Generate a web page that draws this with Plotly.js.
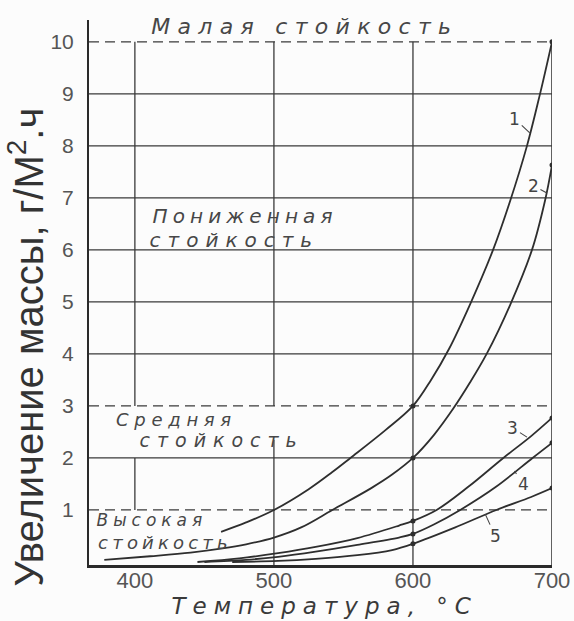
<!DOCTYPE html>
<html>
<head>
<meta charset="utf-8">
<script src="https://cdn.plot.ly/plotly-3.0.1.min.js"></script>
<style>
  html, body { margin: 0; padding: 0; background: #fcfcfc; }
  #chart { width: 574px; height: 621px; }
  g.annotation[data-index="0"] text { letter-spacing: 7.3px; }
  g.annotation[data-index="1"] text { letter-spacing: 5.1px; }
  g.annotation[data-index="2"] text { letter-spacing: 7px; }
  g.annotation[data-index="3"] text { letter-spacing: 5.7px; }
  g.annotation[data-index="4"] text { letter-spacing: 7px; }
  g.annotation[data-index="5"] text { letter-spacing: 5px; }
  g.annotation[data-index="6"] text { letter-spacing: 4.2px; }
  g.annotation[data-index="7"] text { letter-spacing: 7px; }
</style>
</head>
<body>
<div id="chart"></div>
<script>
// ---- data ----
const curveLabels = ['1', '2', '3', '4', '5'];

const temp1 = [462, 480, 500, 525, 542, 555, 580, 600, 613, 626, 641, 657.6, 670, 682, 691.4, 700];
const gain1 = [0.58, 0.76, 1.0, 1.4, 1.73, 2.0, 2.53, 3.0, 3.5, 4.1, 4.95, 6.0, 6.95, 8.0, 9.0, 10.0];

const temp2 = [378, 411, 440, 463, 480, 500, 520, 542, 570, 585, 600, 615, 629, 641, 653, 670, 685.6, 695, 700];
const gain2 = [0.04, 0.11, 0.18, 0.26, 0.34, 0.47, 0.67, 1.0, 1.42, 1.68, 2.0, 2.44, 2.95, 3.45, 4.0, 4.95, 6.0, 6.95, 7.63];

const temp3 = [445, 475, 503, 530, 560, 590, 600, 617, 640, 665, 685, 700];
const gain3 = [0.0, 0.07, 0.17, 0.29, 0.46, 0.70, 0.79, 1.0, 1.45, 2.0, 2.42, 2.77];

const temp4 = [450, 480, 503, 530, 560, 590, 600, 615, 634, 660, 686, 700];
const gain4 = [0.0, 0.04, 0.10, 0.20, 0.33, 0.47, 0.54, 0.72, 1.0, 1.45, 2.0, 2.29];

const temp5 = [470, 503, 530, 560, 585, 600, 630, 660, 685, 700];
const gain5 = [0.0, 0.02, 0.06, 0.13, 0.23, 0.35, 0.66, 1.0, 1.25, 1.42];

const markedTemps = [600, 700];

const xTickVals = [400, 500, 600, 700];
const xTickText = ['400', '500', '600', '700'];
const yTickVals = [1, 2, 3, 4, 5, 6, 7, 8, 9, 10];
const yTickText = ['1', '2', '3', '4', '5', '6', '7', '8', '9', '10'];

const solidGridY = [2, 4, 5, 6, 7, 8, 9];
const dashedGridY = [1, 3, 10];

const zoneTitle = 'Малая стойкость';
const zoneLow = ['Пониженная', 'стойкость'];
const zoneMid = ['Средняя', 'стойкость'];
const zoneHigh = ['Высокая', 'стойкость'];
const xTitle = 'Температура, °С';
const yTitle = 'Увеличение массы, г/М<sup>2</sup>.ч';

// ---- build ----
const temps = [temp1, temp2, temp3, temp4, temp5];
const gains = [gain1, gain2, gain3, gain4, gain5];
const ink = '#2e2e2e';
const XMIN = 367, XMAX = 700, YMIN = -0.058, YMAX = 10.42;

const traces = temps.map((t, i) => ({
  x: t, y: gains[i], type: 'scatter', mode: 'lines',
  name: curveLabels[i],
  line: { color: ink, width: 1.8, shape: 'spline', smoothing: 1 },
  hoverinfo: 'skip', showlegend: false
}));

const mx = [], my = [];
temps.forEach((t, i) => {
  t.forEach((v, j) => { if (markedTemps.includes(v)) { mx.push(v); my.push(gains[i][j]); } });
});
traces.push({
  x: mx, y: my, type: 'scatter', mode: 'markers',
  marker: { color: ink, size: 5 }, hoverinfo: 'skip', showlegend: false
});

const gridColor = '#3a3a3a';
const shapes = [];
solidGridY.forEach(v => shapes.push({
  type: 'line', xref: 'x', yref: 'y', x0: XMIN, x1: XMAX, y0: v, y1: v,
  line: { color: gridColor, width: 1.3 }, layer: 'below'
}));
dashedGridY.forEach(v => shapes.push({
  type: 'line', xref: 'x', yref: 'y', x0: XMIN, x1: XMAX, y0: v, y1: v,
  line: { color: gridColor, width: 1.3, dash: '10px,6px' }, layer: 'below'
}));
// vertical grid segments (gaps where zone labels sit)
const vSeg = [
  [xTickVals[0], 3, 10], [xTickVals[0], 1, 2],
  [xTickVals[1], 3, 10], [xTickVals[1], YMIN, 2.35],
  [xTickVals[2], YMIN, 10],
  [xTickVals[3], YMIN, 10]
];
vSeg.forEach(s => shapes.push({
  type: 'line', xref: 'x', yref: 'y', x0: s[0], x1: s[0], y0: s[1], y1: s[2],
  line: { color: gridColor, width: s[0] === 700 ? 1.6 : 1.3 }, layer: 'below'
}));

const zf = (size) => ({ family: 'DejaVu Sans', size: size, color: '#474747', style: 'italic' });
const annotations = [
  { text: zoneTitle, x: 522, y: 10.3, font: zf(22) },
  { text: zoneLow[0], x: 479, y: 6.65, font: zf(20) },
  { text: zoneLow[1], x: 472, y: 6.2, font: zf(20) },
  { text: zoneMid[0], x: 430, y: 2.74, font: zf(18) },
  { text: zoneMid[1], x: 462, y: 2.35, font: zf(19) },
  { text: zoneHigh[0], x: 412, y: 0.8, font: zf(17) },
  { text: zoneHigh[1], x: 422, y: 0.37, font: zf(18) },
  { text: xTitle, xref: 'paper', yref: 'paper', x: 0.508, y: -0.076,
    font: { family: 'DejaVu Sans', size: 23, color: '#3a3a3a', style: 'italic' } },
  { text: yTitle, xref: 'paper', yref: 'paper', x: -0.135, y: 0.40,
    textangle: -90, font: { family: 'Liberation Sans', size: 40, color: '#333333' } },
  // curve labels with leaders
  { text: curveLabels[0], x: 684, y: 8.25, ax: -15, ay: -14 },
  { text: curveLabels[1], x: 696, y: 7.1, ax: -13, ay: -7 },
  { text: curveLabels[2], x: 682, y: 2.4, ax: -14, ay: -9 },
  { text: curveLabels[3], x: 673, y: 1.75, ax: 9, ay: 13 },
  { text: curveLabels[4], x: 652, y: 0.92, ax: 10, ay: 22 }
].map((a, i) => {
  if (i >= 9) {
    return Object.assign({
      xref: 'x', yref: 'y', showarrow: true, arrowhead: 0, arrowwidth: 1.1, arrowcolor: '#444',
      standoff: 0, font: { family: 'DejaVu Sans', size: 17, color: '#444' }
    }, a);
  }
  return Object.assign({ xref: 'x', yref: 'y', showarrow: false, xanchor: 'center', yanchor: 'middle' }, a);
});

const layout = {
  width: 574, height: 621,
  margin: { l: 89, r: 22, t: 20, b: 56, pad: 0 },
  paper_bgcolor: '#fcfcfc', plot_bgcolor: 'rgba(0,0,0,0)',
  showlegend: false,
  xaxis: {
    range: [XMIN, XMAX], tickvals: xTickVals, ticktext: xTickText,
    showgrid: false, zeroline: false, ticks: '',
    showline: true, linecolor: '#2a2a2a', linewidth: 3,
    ticklabelstandoff: -6,
    tickfont: { family: 'Liberation Sans', size: 22, color: '#555' },
    fixedrange: true
  },
  yaxis: {
    range: [YMIN, YMAX], tickvals: yTickVals, ticktext: yTickText,
    showgrid: false, zeroline: false, ticks: '',
    showline: true, linecolor: '#2a2a2a', linewidth: 2,
    ticklabelstandoff: 9,
    tickfont: { family: 'Liberation Sans', size: 21, color: '#555' },
    fixedrange: true
  },
  shapes: shapes,
  annotations: annotations
};

Plotly.newPlot('chart', traces, layout, { displayModeBar: false, staticPlot: true });
</script>
</body>
</html>
